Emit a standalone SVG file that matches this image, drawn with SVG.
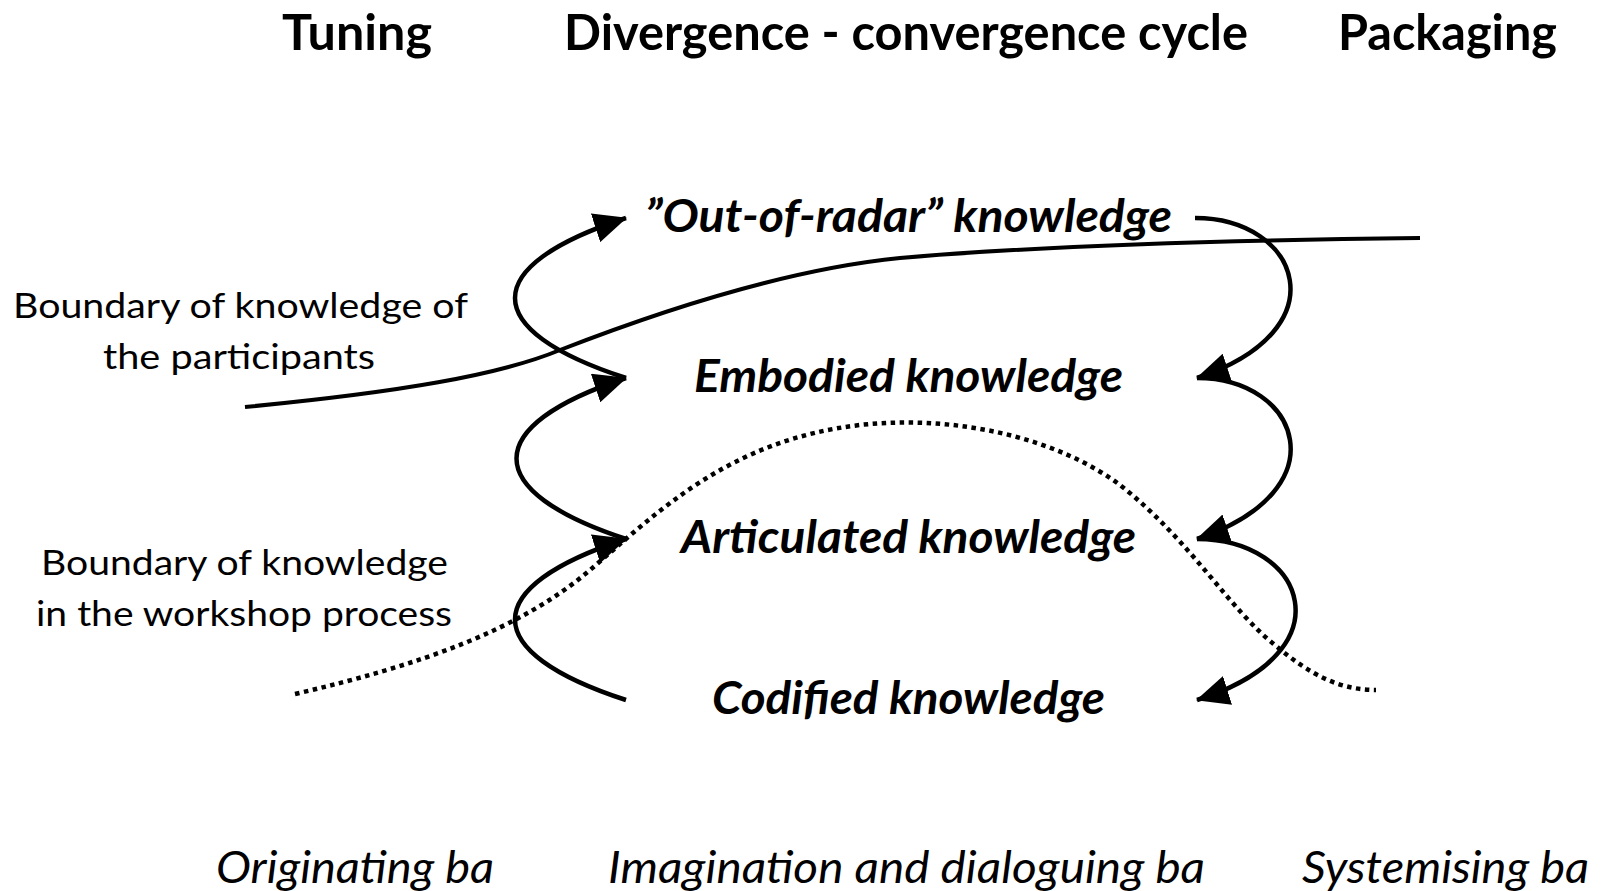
<svg xmlns="http://www.w3.org/2000/svg" width="1604" height="891" viewBox="0 0 1604 891">
<defs>
<style>
.h{font-family:Lato,"Open Sans","Liberation Sans",sans-serif;font-weight:bold;font-size:49px;fill:#000}
.k{font-family:Lato,"Open Sans","Liberation Sans",sans-serif;font-weight:bold;font-style:italic;font-size:45px;fill:#000}
.l{font-family:Lato,"Open Sans","Liberation Sans",sans-serif;font-size:35px;fill:#000}
.b{font-family:Lato,"Open Sans","Liberation Sans",sans-serif;font-style:italic;font-size:45px;fill:#000}
.arc{fill:none;stroke:#000;stroke-width:4.5;marker-end:url(#ah)}
</style>
<marker id="ah" markerUnits="userSpaceOnUse" markerWidth="34" markerHeight="30" refX="32" refY="15" orient="auto" viewBox="0 0 34 30">
<path d="M0,0 L33,15 L0,30 Z" fill="#000"/>
</marker>
</defs>
<rect width="1604" height="891" fill="#fff"/>
<g id="headings">
<text class="h" x="282" y="50" textLength="150" lengthAdjust="spacingAndGlyphs">Tuning</text>
<text class="h" x="564" y="50" textLength="684" lengthAdjust="spacingAndGlyphs">Divergence - convergence cycle</text>
<text class="h" x="1338" y="50" textLength="219" lengthAdjust="spacingAndGlyphs">Packaging</text>
</g>
<g id="boundaries">
<path id="boundary-participants" d="M245,407 C400,392 500,375 560,350 C650,315 780,270 900,258 C1050,245 1250,240 1420,238" fill="none" stroke="#000" stroke-width="4"/>
<path id="boundary-workshop" d="M295,694 C420,665 520,630 590,570 C660,510 730,440 860,425 C960,414 1060,440 1120,485 C1190,540 1230,610 1275,645 C1310,675 1340,690 1376,690" fill="none" stroke="#000" stroke-width="4.5" stroke-dasharray="4.5 4.5"/>
</g>
<g id="connectors">
<path class="arc" d="M626,378 C478,330 478,266 626,218"/>
<path class="arc" d="M626,539 C480,491 480,426 626,378"/>
<path class="arc" d="M626,700 C478,652 478,587 626,539"/>
<path class="arc" d="M1195,218 C1300,218 1342,330 1197,378"/>
<path class="arc" d="M1197,378 C1300,378 1342,490 1197,539"/>
<path class="arc" d="M1197,539 C1305,539 1350,652 1197,700"/>
</g>
<g id="node-out-of-radar"><text class="k" x="645" y="232" textLength="527" lengthAdjust="spacingAndGlyphs">”Out-of-radar” knowledge</text></g>
<g id="node-embodied"><text class="k" x="694" y="392" textLength="429" lengthAdjust="spacingAndGlyphs">Embodied knowledge</text></g>
<g id="node-articulated"><text class="k" x="681" y="553" textLength="455" lengthAdjust="spacingAndGlyphs">Articulated knowledge</text></g>
<g id="node-codified"><text class="k" x="712" y="714" textLength="393" lengthAdjust="spacingAndGlyphs">Codified knowledge</text></g>
<g id="label-participants">
<text class="l" x="13" y="318" textLength="455" lengthAdjust="spacingAndGlyphs">Boundary of knowledge of</text>
<text class="l" x="103" y="369" textLength="272" lengthAdjust="spacingAndGlyphs">the participants</text>
</g>
<g id="label-workshop">
<text class="l" x="41" y="575" textLength="407" lengthAdjust="spacingAndGlyphs">Boundary of knowledge</text>
<text class="l" x="36" y="626" textLength="416" lengthAdjust="spacingAndGlyphs">in the workshop process</text>
</g>
<g id="ba-labels">
<text class="b" x="216" y="883" textLength="278" lengthAdjust="spacingAndGlyphs">Originating ba</text>
<text class="b" x="608" y="883" textLength="597" lengthAdjust="spacingAndGlyphs">Imagination and dialoguing ba</text>
<text class="b" x="1302" y="883" textLength="287" lengthAdjust="spacingAndGlyphs">Systemising ba</text>
</g>
</svg>
